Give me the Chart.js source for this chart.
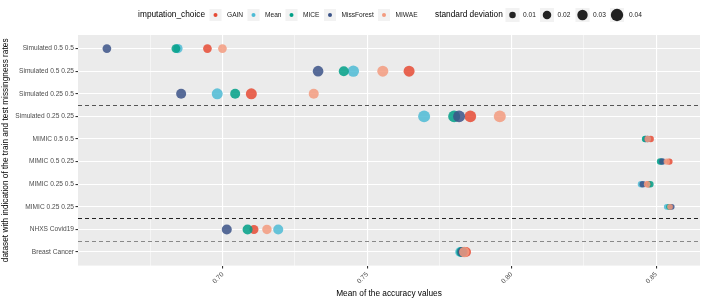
<!DOCTYPE html>
<html lang="en">
<head>
<meta charset="UTF-8">
<title>Accuracy by imputation choice</title>
<script src="https://cdn.jsdelivr.net/npm/chart.js"></script>
<style>
  html, body { margin: 0; padding: 0; background: #fff; }
  #wrap { width: 706px; height: 299px; }
</style>
</head>
<body>
<div id="wrap"><canvas id="chart" width="706" height="299"></canvas></div>
<script>
// datasets, top to bottom
const datasetNames = ['Simulated 0.5 0.5', 'Simulated 0.5 0.25', 'Simulated 0.25 0.5', 'Simulated 0.25 0.25',
  'MIMIC 0.5 0.5', 'MIMIC 0.5 0.25', 'MIMIC 0.25 0.5', 'MIMIC 0.25 0.25', 'NHXS Covid19', 'Breast Cancer'];

const methods = ['GAIN', 'Mean', 'MICE', 'MissForest', 'MIWAE'];
const methodColors = ['#E64B35', '#4DBBD5', '#00A087', '#3C5488', '#F39B7F'];

// mean accuracy, one value per dataset row
const gainMean       = [0.6947, 0.7645, 0.7099, 0.7857, 0.8481, 0.8546, 0.8473, 0.8547, 0.7108, 0.7842];
const meanMean       = [0.6845, 0.7452, 0.6981, 0.7697, 0.8464, 0.8518, 0.8448, 0.8537, 0.7192, 0.7822];
const miceMean       = [0.6838, 0.7419, 0.7043, 0.7801, 0.8462, 0.8514, 0.8480, 0.8545, 0.7086, 0.7826];
const missForestMean = [0.6599, 0.7330, 0.6856, 0.7818, 0.8470, 0.8522, 0.8454, 0.8554, 0.7014, 0.7830];
const miwaeMean      = [0.6999, 0.7554, 0.7315, 0.7959, 0.8471, 0.8537, 0.8469, 0.8548, 0.7153, 0.7836];

// standard deviation of accuracy (point size)
const gainSd       = [0.021, 0.033, 0.033, 0.036, 0.010, 0.009, 0.010, 0.006, 0.023, 0.028];
const meanSd       = [0.024, 0.035, 0.033, 0.038, 0.010, 0.009, 0.010, 0.006, 0.028, 0.028];
const miceSd       = [0.022, 0.028, 0.028, 0.038, 0.010, 0.010, 0.010, 0.006, 0.028, 0.028];
const missForestSd = [0.021, 0.031, 0.028, 0.038, 0.010, 0.010, 0.010, 0.006, 0.028, 0.028];
const miwaeSd      = [0.021, 0.033, 0.028, 0.038, 0.010, 0.009, 0.010, 0.006, 0.025, 0.030];

const sdLegend = [0.01, 0.02, 0.03, 0.04];
const xMajorTicks = [0.70, 0.75, 0.80, 0.85];
const xMinorTicks = [0.675, 0.725, 0.775, 0.825];
const separatorRows = [2.5, 7.5, 8.5];
const separatorColors = ['#555', '#222', '#888'];

const allMeans = [gainMean, meanMean, miceMean, missForestMean, miwaeMean];
const allSds = [gainSd, meanSd, miceSd, missForestSd, miwaeSd];

function sdRadius(sd) {
  return 2.3 + 97 * sd;
}

function hexAlpha(hex, a) {
  const n = parseInt(hex.slice(1), 16);
  return `rgba(${n >> 16}, ${(n >> 8) & 255}, ${n & 255}, ${a})`;
}

const datasets = methods.map((m, i) => ({
  label: m,
  data: allMeans[i].map((v, row) => ({ x: v, y: row, r: sdRadius(allSds[i][row]) })),
  backgroundColor: hexAlpha(methodColors[i], 0.85),
  borderWidth: 0,
  order: methods.length - i
}));

const FONT = "'Liberation Sans', Arial, sans-serif";

// grey panel, dashed separators, legend and axis titles
const decorations = {
  id: 'decorations',
  beforeDraw(chart) {
    const { ctx, chartArea: a } = chart;
    ctx.save();
    ctx.fillStyle = '#EBEBEB';
    ctx.fillRect(a.left, a.top, a.right - a.left, a.bottom - a.top);
    ctx.restore();
  },
  beforeDatasetsDraw(chart) {
    const { ctx, chartArea: a, scales } = chart;
    ctx.save();
    ctx.lineWidth = 1.2;
    ctx.setLineDash([4, 3]);
    separatorRows.forEach((r, i) => {
      const y = Math.round(scales.y.getPixelForValue(r)) + 0.5;
      ctx.strokeStyle = separatorColors[i];
      ctx.beginPath();
      ctx.moveTo(a.left, y);
      ctx.lineTo(a.right, y);
      ctx.stroke();
    });
    ctx.restore();
  },
  afterDraw(chart) {
    const { ctx, chartArea: a } = chart;
    ctx.save();
    ctx.fillStyle = '#000';
    ctx.textBaseline = 'middle';

    // legend: imputation choice
    const ly = 15;
    ctx.font = `8.3px ${FONT}`;
    ctx.textAlign = 'right';
    ctx.fillText('imputation_choice', 205, ly);
    const keyX = [215.5, 253.5, 291.5, 330, 384];
    ctx.textAlign = 'left';
    methods.forEach((m, i) => {
      ctx.fillStyle = '#F2F2F2';
      ctx.fillRect(keyX[i] - 6, ly - 6, 12, 12);
      ctx.fillStyle = methodColors[i];
      ctx.beginPath();
      ctx.arc(keyX[i], ly, 2, 0, Math.PI * 2);
      ctx.fill();
      ctx.fillStyle = '#1a1a1a';
      ctx.font = `6.6px ${FONT}`;
      ctx.fillText(m, keyX[i] + 11.5, ly);
    });

    // legend: standard deviation
    ctx.font = `8.3px ${FONT}`;
    ctx.fillStyle = '#000';
    ctx.fillText('standard deviation', 435, ly);
    const sizeX = [512.5, 547, 582.5, 617];
    sdLegend.forEach((s, i) => {
      ctx.fillStyle = '#F2F2F2';
      ctx.fillRect(sizeX[i] - 7, ly - 7, 14, 14);
      ctx.fillStyle = '#222';
      ctx.beginPath();
      ctx.arc(sizeX[i], ly, sdRadius(s), 0, Math.PI * 2);
      ctx.fill();
      ctx.fillStyle = '#1a1a1a';
      ctx.font = `6.6px ${FONT}`;
      ctx.fillText(s.toFixed(2), sizeX[i] + 10.5 + (i === 3 ? 1.5 : 0), ly);
    });

    // axis titles
    ctx.fillStyle = '#000';
    ctx.font = `8.3px ${FONT}`;
    ctx.textAlign = 'center';
    ctx.fillText('Mean of the accuracy values', (a.left + a.right) / 2, 293.5);
    ctx.translate(6, (a.top + a.bottom) / 2);
    ctx.rotate(-Math.PI / 2);
    ctx.fillText('dataset with indication of the train and test missingness rates', 0, 0);
    ctx.restore();
  }
};

function isMajor(v) {
  return xMajorTicks.some(t => Math.abs(t - v) < 1e-6);
}

new Chart(document.getElementById('chart'), {
  type: 'bubble',
  data: { datasets },
  options: {
    responsive: false,
    animation: false,
    events: [],
    layout: { padding: { left: 0, right: 4, top: 35, bottom: 0 } },
    plugins: { legend: { display: false }, tooltip: { enabled: false } },
    scales: {
      x: {
        type: 'linear',
        min: 0.6499,
        max: 0.8652,
        afterBuildTicks(scale) {
          scale.ticks = [...xMinorTicks, ...xMajorTicks].sort((p, q) => p - q).map(v => ({ value: v }));
        },
        afterFit(scale) { scale.height = 33.4; },
        border: { display: false },
        grid: {
          color: '#FFFFFF',
          lineWidth: c => (c.tick && isMajor(c.tick.value) ? 1.1 : 0.5),
          tickColor: c => (c.tick && isMajor(c.tick.value) ? '#333' : 'rgba(0,0,0,0)'),
          tickLength: 3
        },
        ticks: {
          autoSkip: false,
          minRotation: 45,
          maxRotation: 45,
          padding: 2,
          color: '#4D4D4D',
          font: { family: FONT, size: 6.6 },
          callback: v => (isMajor(v) ? v.toFixed(2) : '')
        }
      },
      y: {
        type: 'linear',
        reverse: true,
        min: -0.6,
        max: 9.6,
        afterBuildTicks(scale) {
          scale.ticks = datasetNames.map((n, i) => ({ value: i }));
        },
        afterFit(scale) { scale.width = 78; },
        border: { display: false },
        grid: { color: '#FFFFFF', lineWidth: 1.1, tickColor: '#333', tickLength: 2.5 },
        ticks: {
          padding: 1.5,
          color: '#4D4D4D',
          font: { family: FONT, size: 6.6 },
          callback: v => datasetNames[v]
        }
      }
    }
  },
  plugins: [decorations]
});
</script>
</body>
</html>
